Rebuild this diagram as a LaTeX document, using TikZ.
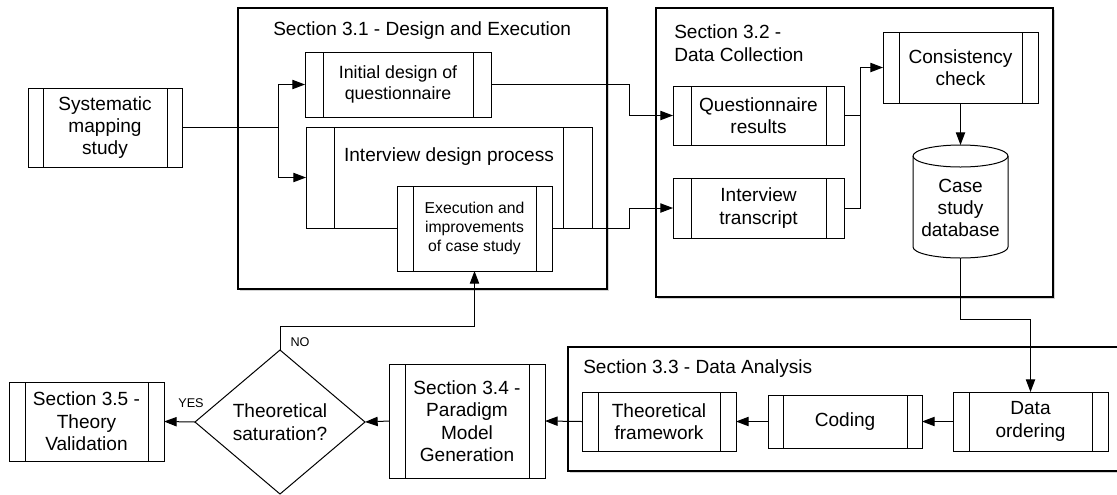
\documentclass[tikz,border=0pt]{standalone}
\usepackage{fontspec}
\setmainfont{Liberation Sans}
\usetikzlibrary{shapes.geometric,arrows.meta,shadows,calc}
\newcommand\mainfs{\fontsize{14.3}{16.8}\selectfont}
\newcommand\initfs{\fontsize{13.3}{16}\selectfont}
\newcommand\smallfs{\fontsize{11.8}{14.3}\selectfont}
\newcommand\tinyfs{\fontsize{9.5}{11}\selectfont}
\newcommand\titlefs{\fontsize{14.3}{17.25}\selectfont}
\pgfkeys{/tikz/barw/.initial=12pt}
\tikzset{
  ln/.style={line width=0.75pt},
  arr/.style={ln,-{Triangle[length=9.5pt,width=7pt]}},
  sz/.style 2 args={minimum width=#1*0.75pt, minimum height=#2*0.75pt},
  proc/.style={draw, fill=white, rectangle, ln, inner sep=0pt, outer sep=0pt,
    align=center, font=\mainfs,
    path picture={
      \draw[ln] ([xshift=\pgfkeysvalueof{/tikz/barw}]path picture bounding box.north west)
        -- ([xshift=\pgfkeysvalueof{/tikz/barw}]path picture bounding box.south west);
      \draw[ln] ([xshift=-\pgfkeysvalueof{/tikz/barw}]path picture bounding box.north east)
        -- ([xshift=-\pgfkeysvalueof{/tikz/barw}]path picture bounding box.south east);
    }},
  cont/.style={draw, fill=white, line width=0.9pt,
    drop shadow={shadow xshift=1.5pt, shadow yshift=-1.5pt, opacity=0.35}},
  title/.style={inner sep=0pt, font=\titlefs},
}
\begin{document}
\begin{tikzpicture}[x=0.75pt,y=-0.75pt]
\useasboundingbox (0,0) rectangle (1117,494);
\clip (0,0) rectangle (1117,494);
% containers
\draw[cont] (238,8) rectangle (607,289);
\draw[cont] (656,8) rectangle (1053,297);
\draw[cont] (568,347) rectangle (1140,471);
\node[title, anchor=west] (t31) at (273,31) {Section 3.1 - Design and Execution};
\node[title, anchor=west, align=left] (t32) at (674,43) {Section 3.2 -\\Data Collection};
\node[title, anchor=west] (t33) at (583,369) {Section 3.3 - Data Analysis};
% top nodes
\node[proc, sz={154}{79}, barw=11.25pt] (sys) at (105,127.5) {Systematic\\mapping\\study};
\node[proc, sz={186}{65}, barw=13.5pt, font=\initfs] (init) at (398,84.5) {Initial design of\\questionnaire};
\node[proc, sz={286}{101}, barw=21.4pt] (idp) at (449,177.5) {};
\node[font=\mainfs, inner sep=0pt] (idpt) at (449,157) {Interview design process};
\node[proc, sz={155}{85}, barw=12pt, font=\smallfs] (exec) at (474.5,228.5) {Execution and\\improvements\\of case study};
\node[proc, sz={171}{59}, barw=13.5pt] (qres) at (758.5,115.5) {Questionnaire\\results};
\node[proc, sz={171}{60}, barw=13.5pt] (itr) at (758.5,208) {Interview\\transcript};
\node[proc, sz={155}{71}, barw=12pt] (cons) at (960.5,67.5) {Consistency\\check};
% database cylinder
\draw[ln, fill=white] (913,156) -- (913,247)
  arc[start angle=180, end angle=360, x radius=35.625pt, y radius=8.25pt]
  -- (1008,156)
  arc[start angle=0, end angle=180, x radius=35.625pt, y radius=8.25pt] -- cycle;
\draw[ln] (913,156) arc[start angle=180, end angle=360, x radius=35.625pt, y radius=8.25pt];
\node[inner sep=0pt, outer sep=0pt, sz={95}{113}] (db) at (960.5,201.5) {};
\node[font=\mainfs, align=center, inner sep=0pt] (dbt) at (960.5,208) {Case\\study\\database};
% bottom nodes
\node[proc, sz={154}{59}, barw=12pt] (thf) at (659,421.5) {Theoretical\\framework};
\node[proc, sz={154}{53}, barw=11.25pt] (cod) at (845,421.5) {Coding};
\node[proc, sz={155}{59}, barw=12pt] (dord) at (1030.5,421.5) {Data\\ordering};
\node[proc, sz={156}{114}, barw=12pt] (s34) at (467,421) {Section 3.4 -\\Paradigm\\Model\\Generation};
\node[draw, diamond, ln, sz={170}{144}, inner sep=0pt, outer sep=0pt, align=center,
  font=\mainfs, fill=white] (dia) at (280,422) {Theoretical\\saturation?};
\node[proc, sz={155}{79}, barw=12pt] (s35) at (86.5,421.5) {Section 3.5 -\\Theory\\Validation};
\node[font=\tinyfs, inner sep=0pt] (no) at (300,342) {NO};
\node[font=\tinyfs, inner sep=0pt] (yes) at (191,403) {YES};
% connectors
\coordinate (j1) at (278,127.5);
\draw[ln] (sys.east) -- (j1);
\draw[arr] (j1) |- (init.west);
\draw[arr] (j1) |- (idp.west);
\draw[arr] (init.east) -- ++(138,0) |- (qres.west);
\draw[arr] (exec.east) -- ++(77,0) |- (itr.west);
\draw[ln] (qres.east) -- ++(16,0);
\draw[arr] (itr.east) -- ++(16,0) |- (cons.west);
\draw[arr] (cons.south) -- (db.north);
\draw[arr] (db.south) -- ++(0,61) -| (dord.north);
\draw[arr] (dord.west) -- (cod.east);
\draw[arr] (cod.west) -- (thf.east);
\draw[arr] (thf.west) -- (s34.east);
\draw[arr] (s34.west) -- (dia.east);
\draw[arr] (dia.west) -- (s35.east);
\draw[arr] (dia.north) -- ++(0,-24) -| (exec.south);
\end{tikzpicture}
\end{document}
